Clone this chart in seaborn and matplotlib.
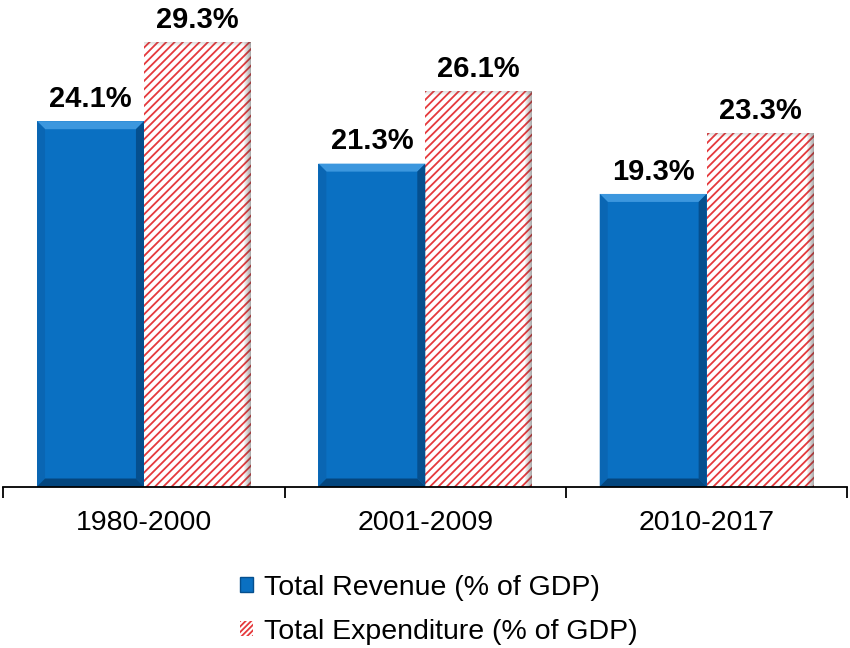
import matplotlib
matplotlib.use("Agg")
import matplotlib.pyplot as plt
from matplotlib.patches import Patch, Polygon, Rectangle
import seaborn as sns
import pandas as pd

periods = ["1980-2000", "2001-2009", "2010-2017"]
revenue = [24.1, 21.3, 19.3]
expenditure = [29.3, 26.1, 23.3]
series_names = ["Total Revenue (% of GDP)", "Total Expenditure (% of GDP)"]

BLUE = "#0A70C2"
RED = "#E5393C"

sns.set_theme(style="white")
plt.rcParams["font.family"] = ["Liberation Sans", "DejaVu Sans"]
plt.rcParams["hatch.linewidth"] = 1.3
plt.rcParams["text.color"] = "black"

df = pd.DataFrame({
    "period": periods * 2,
    "value": revenue + expenditure,
    "series": [series_names[0]] * len(periods) + [series_names[1]] * len(periods),
})

fig = plt.figure(figsize=(8.5, 6.48), dpi=100)
ax = fig.add_axes([3.3 / 850, 0.2492, 844.0 / 850, 0.7486])

sns.barplot(data=df, x="period", y="value", hue="series", hue_order=series_names,
            palette=[BLUE, "white"], width=0.76, gap=0, saturation=1,
            legend=False, ax=ax)

ax.set_xlim(-0.5, 2.5)
ax.set_ylim(0, 32)

# pixel-to-data conversion for the bevel/shadow decorations
px_x = 3.0 / ax.bbox.width
px_y = 32.0 / ax.bbox.height

rev_bars, exp_bars = ax.containers[0], ax.containers[1]

# bevelled blue bars
for p in rev_bars.patches:
    p.set_facecolor(BLUE)
    p.set_edgecolor("none")
    x0, y0 = p.get_x(), p.get_y()
    x1, y1 = x0 + p.get_width(), y0 + p.get_height()
    dx, dy = 8 * px_x, 8 * px_y
    faces = [
        ([(x0, y1), (x1, y1), (x1 - dx, y1 - dy), (x0 + dx, y1 - dy)], "#3C97DE"),
        ([(x0, y0), (x0, y1), (x0 + dx, y1 - dy), (x0 + dx, y0 + dy)], "#0A66B3"),
        ([(x1, y0), (x1, y1), (x1 - dx, y1 - dy), (x1 - dx, y0 + dy)], "#054F8E"),
        ([(x0, y0), (x1, y0), (x1 - dx, y0 + dy), (x0 + dx, y0 + dy)], "#04467E"),
    ]
    for pts, c in faces:
        ax.add_patch(Polygon(pts, closed=True, facecolor=c, edgecolor="none", zorder=p.get_zorder() + 0.1))

# hatched red bars with a soft grey edge shade
for p in exp_bars.patches:
    p.set_facecolor("white")
    p.set_edgecolor(RED)
    p.set_linewidth(0)
    p.set_hatch("////")
    x0, y0 = p.get_x(), p.get_y()
    x1, y1 = x0 + p.get_width(), y0 + p.get_height()
    for i in range(7):
        a = 0.06 + 0.06 * i
        ax.add_patch(Rectangle((x1 - (7 - i) * px_x, y0), px_x, y1 - y0,
                               facecolor="#404040", alpha=a, edgecolor="none",
                               zorder=p.get_zorder() + 0.1))
    for i in range(4):
        ax.add_patch(Rectangle((x0, y1 - (4 - i) * px_y), x1 - x0, px_y,
                               facecolor="#606060", alpha=0.04 + 0.05 * i,
                               edgecolor="none", zorder=p.get_zorder() + 0.1))

# value labels
for cont in (rev_bars, exp_bars):
    ax.bar_label(cont, labels=[f"{v:.1f}%" for v in cont.datavalues], padding=6,
                 fontsize=21, fontweight="bold", color="black")

# axes styling
for side in ("left", "right", "top"):
    ax.spines[side].set_visible(False)
ax.spines["bottom"].set_color("black")
ax.spines["bottom"].set_linewidth(1.3)
ax.set_yticks([])
ax.set_xlabel("")
ax.set_ylabel("")
ax.set_xticks([-0.5, 0.5, 1.5, 2.5], minor=True)
ax.tick_params(axis="x", which="minor", length=8, width=1.3, color="black", direction="out", bottom=True)
ax.tick_params(axis="x", which="major", length=0, pad=17, labelsize=20.5, labelcolor="black")

handles = [
    Patch(facecolor=BLUE, edgecolor="#054F8E", linewidth=1.0),
    Patch(facecolor="white", edgecolor=RED, linewidth=0, hatch="//////"),
]
fig.legend(handles, series_names, loc="center", bbox_to_anchor=(439 / 850, 0.059),
           frameon=False, fontsize=20.5, handlelength=0.45, handleheight=0.45,
           handletextpad=0.38, labelspacing=0.62, borderpad=0, labelcolor="black")

fig.savefig("out.png", dpi=100)
